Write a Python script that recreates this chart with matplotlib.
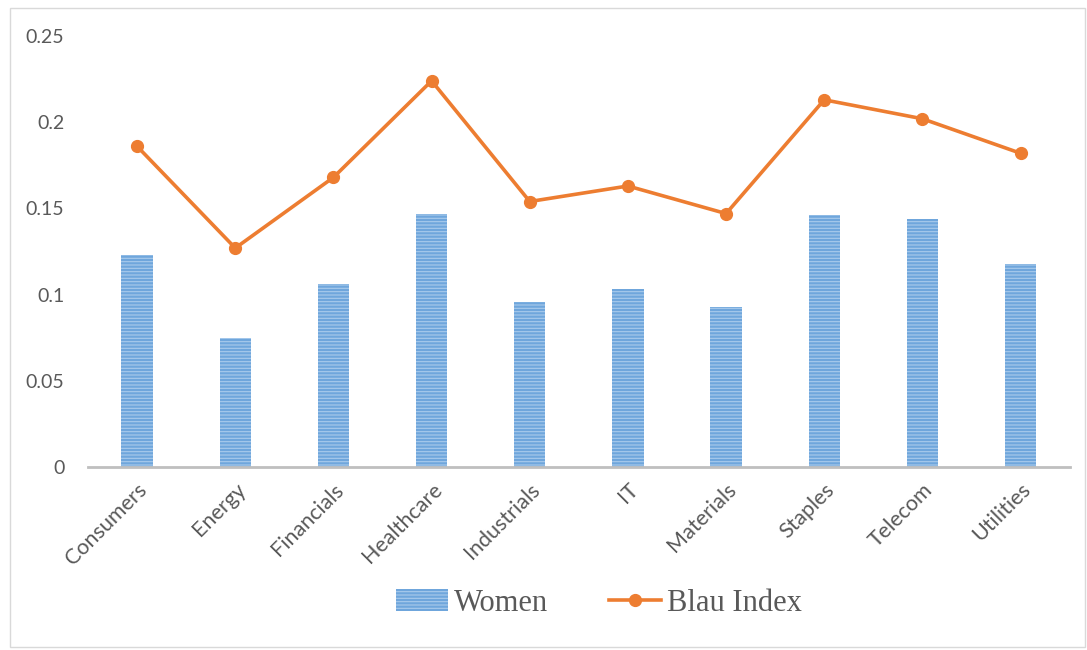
import matplotlib
matplotlib.use("Agg")
import matplotlib.pyplot as plt
import numpy as np
from matplotlib.patches import Rectangle

# sector data
sectors = ["Consumers", "Energy", "Financials", "Healthcare", "Industrials",
           "IT", "Materials", "Staples", "Telecom", "Utilities"]
women = [0.123, 0.075, 0.106, 0.147, 0.096, 0.103, 0.093, 0.146, 0.144, 0.118]
blau = [0.186, 0.127, 0.168, 0.224, 0.154, 0.163, 0.147, 0.213, 0.202, 0.182]
yticks = [0, 0.05, 0.1, 0.15, 0.2, 0.25]
ytick_labels = ["0", "0.05", "0.1", "0.15", "0.2", "0.25"]

bar_color = "#6fa6dc"
line_color = "#ED7D31"
text_color = "#595959"

plt.rcParams["hatch.color"] = "#a9cbec"
plt.rcParams["hatch.linewidth"] = 0.8

fig = plt.figure(figsize=(10.87, 6.5), dpi=100)
ax = fig.add_axes([0.081, 0.2815, 0.903, 0.6631])

x = np.arange(len(sectors))
bars = ax.bar(x, women, width=0.32, color=bar_color, hatch="-----",
              linewidth=0, label="Women", zorder=2)
line, = ax.plot(x, blau, color=line_color, linewidth=2.6, marker="o",
                markersize=8.5, label="Blau Index", zorder=4)

ax.set_xlim(-0.5, len(sectors) - 0.5)
ax.set_ylim(0, 0.25)
ax.set_yticks(yticks)
ax.set_yticklabels(ytick_labels, fontsize=14, color=text_color,
                   family="Lato")
ax.set_xticks(x)
ax.set_xticklabels(sectors, rotation=45, ha="right", rotation_mode="anchor",
                   fontsize=15.5, color=text_color, family="Lato")
ax.tick_params(axis="both", length=0)
ax.tick_params(axis="y", pad=17)
ax.tick_params(axis="x", pad=9)

for side in ["top", "right", "left"]:
    ax.spines[side].set_visible(False)
ax.spines["bottom"].set_color("#bfbfbf")
ax.spines["bottom"].set_linewidth(2)

leg = fig.legend([bars, line], ["Women", "Blau Index"], loc="center",
                 bbox_to_anchor=(0.551, 0.072), ncol=2, frameon=False,
                 prop={"family": "Liberation Serif", "size": 22},
                 handlelength=1.7, handletextpad=0.2, columnspacing=2.0)
for t in leg.get_texts():
    t.set_color(text_color)

# light frame around the whole chart
fig.patches.append(Rectangle((0.009, 0.004), 0.989, 0.984,
                             transform=fig.transFigure, fill=False,
                             edgecolor="#d9d9d9", linewidth=1))

fig.savefig("out.png", dpi=100)
